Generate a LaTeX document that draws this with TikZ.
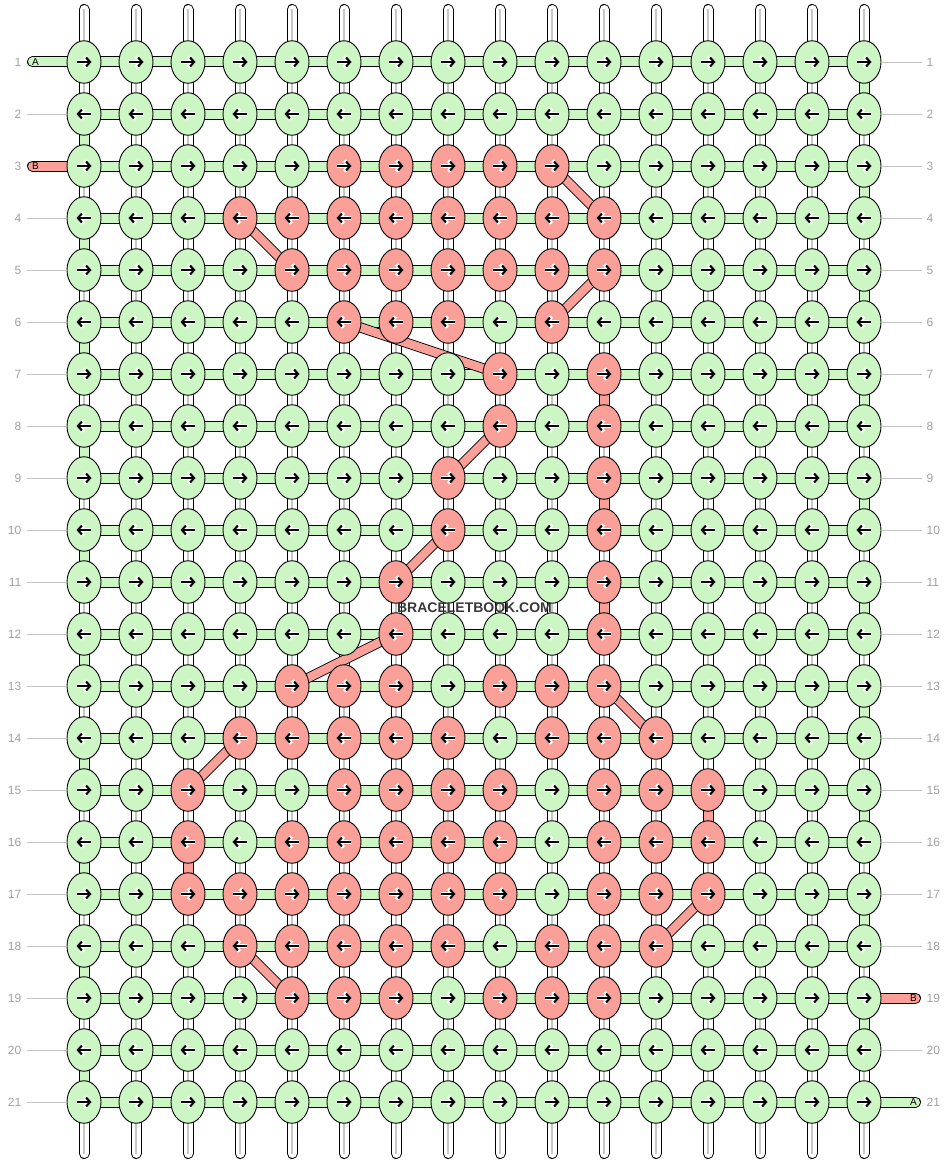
\documentclass[tikz,border=0pt]{standalone}
\usepackage{fontspec}
\setmainfont{Liberation Sans}
\usepackage{tikz}
\usetikzlibrary{shapes.geometric, arrows.meta}

\definecolor{knotgreen}{HTML}{CCF6C4}
\definecolor{knotred}{HTML}{FAA098}
\definecolor{labelgray}{HTML}{A0A0A0}
\definecolor{linegray}{HTML}{C4C4C4}

\begin{document}
\begin{tikzpicture}[ x=1pt, y=-1pt, knot/.style={ellipse, draw=black, line
      width=0.9pt, minimum width=34pt, minimum height=42.5pt, inner sep=0pt},
      warp/.style={draw=black, line width=1pt, double=white, double
      distance=9pt, line cap=round}, warpmid/.style={draw=black!22, line
      width=1.6pt}, weft/.style={draw=black, line width=1pt, double=#1,
      double distance=9pt}, stub/.style={weft=#1, line cap=round},
      carry/.style={draw=black, line width=0.9pt, double=knotred, double
      distance=8.4pt}, knotarrow/.style={line width=2.1pt, -{Straight
      Barb[length=4pt,width=9pt]}, preaction={draw=white, line width=3.8pt,
      -{Straight Barb[length=4.6pt,width=11pt]}}},
      rowlabel/.style={text=labelgray, font=\fontsize{12pt}{14pt}\selectfont,
      inner sep=0pt}, rowline/.style={draw=linegray, line width=0.8pt},
      stublabel/.style={font=\fontsize{10pt}{12pt}\selectfont, inner sep=0pt},
      watermark/.style={text=black!78, font=\bfseries\fontsize{14pt}{16pt}\selectfont,
      inner sep=0pt} ]

    \useasboundingbox (0,0) rectangle (948,1164);

    % Grid points
    \foreach \r in {1,...,21} \foreach \c in {1,...,16} \coordinate (p-\r-\c)
    at ({84+52*(\c-1)}, {62+52*(\r-1)});

    % Red knots
    \foreach \r/\cl in {3/{6,...,10}, 4/{4,...,11}, 5/{5,...,11},
      6/{6,7,8,10}, 7/{9,11}, 8/{9,11}, 9/{8,11}, 10/{8,11}, 11/{7,11},
      12/{7,11}, 13/{5,6,7,9,10,11}, 14/{4,5,6,7,8,10,11,12},
      15/{3,6,7,8,9,11,12,13}, 16/{3,5,6,7,8,9,11,12,13},
      17/{3,4,5,6,7,8,9,11,12,13}, 18/{4,5,6,7,8,10,11,12},
      19/{5,6,7,9,10,11}} \foreach \c in \cl {\expandafter\gdef\csname
      red-\r-\c\endcsname{}};

    % Vertical strands
    \foreach \c in {1,...,16} { \coordinate (top-\c) at ({84+52*(\c-1)},9.5);
      \coordinate (bot-\c) at ({84+52*(\c-1)},1153.5); \draw[warp] (top-\c) --
      (bot-\c); \draw[warpmid] (top-\c) -- (bot-\c); }

    % Rows of the green strand and its turns at the edges
    \foreach \r in {1,...,21} \draw[weft=knotgreen] (p-\r-1) -- (p-\r-16);
    \foreach \r/\s in {1/2,3/4,5/6,7/8,9/10,11/12,13/14,15/16,17/18,19/20}
    \draw[weft=knotgreen] (p-\r-16) -- (p-\s-16);
    \foreach \r/\s in {2/3,4/5,6/7,8/9,10/11,12/13,14/15,16/17,18/19,20/21}
    \draw[weft=knotgreen] (p-\r-1) -- (p-\s-1);

    % Ends of the strands
    \coordinate (a-in) at (32.5,62); \coordinate (b-in) at (32.5,166);
    \coordinate (b-out) at (915.5,998); \coordinate (a-out) at (915.5,1102);
    \draw[stub=knotgreen] (a-in) -- (p-1-1); \draw[stub=knotred] (b-in) --
    (p-3-1); \draw[stub=knotred] (p-19-16) -- (b-out); \draw[stub=knotgreen]
    (p-21-16) -- (a-out);

    % Red strand going down
    \foreach \c/\ra/\rb in {11/7/8, 11/9/10, 11/11/12, 13/15/16, 3/16/17}
    \draw[weft=knotred] (p-\ra-\c) -- (p-\rb-\c);

    % Red strand crossing over
    \foreach \ra/\ca/\rb/\cb in {3/10/4/11, 4/4/5/5, 5/11/6/10, 6/6/7/9,
      8/9/9/8, 10/8/11/7, 12/7/13/5, 13/11/14/12, 14/4/15/3, 17/13/18/12,
      18/4/19/5} \draw[carry] (p-\ra-\ca) -- (p-\rb-\cb);

    % Knots
    \foreach \r in {1,...,21} \foreach \c in {1,...,16} { \ifcsname
      red-\r-\c\endcsname \def\knotfill{knotred}\else\def\knotfill{knotgreen}\fi
      \node[knot, fill=\knotfill] (n-\r-\c) at (p-\r-\c) {}; \ifodd\r
      \draw[knotarrow] ([xshift=-7pt]n-\r-\c.center) --
      ([xshift=7.5pt]n-\r-\c.center); \else \draw[knotarrow]
      ([xshift=7pt]n-\r-\c.center) -- ([xshift=-7.5pt]n-\r-\c.center); \fi }

    % Strand labels
    \node[stublabel] (a-lab) at (35.5,62) {A}; \node[stublabel] (b-lab) at
    (35.5,166) {B}; \node[stublabel] (b-lab2) at (913.5,998) {B};
    \node[stublabel] (a-lab2) at (913.5,1102) {A};

    % Row numbers
    \foreach \r in {1,...,21} { \node[rowlabel, anchor=east] (ll-\r) at
      (21.5,{62+52*(\r-1)}) {\r}; \node[rowlabel, anchor=west] (rl-\r) at
      (926.5,{62+52*(\r-1)}) {\r}; }
    \foreach \r in {2,4,5,...,21} { \coordinate (lls-\r) at
      (26.5,{62+52*(\r-1)}); \draw[rowline] (lls-\r) -- (n-\r-1.west); }
    \foreach \r in {1,...,18,20} { \coordinate (rls-\r) at
      (921.5,{62+52*(\r-1)}); \draw[rowline] (n-\r-16.east) -- (rls-\r); }

    % Site name
    \node[watermark] (wm) at (474.5,607.5) {BRACELETBOOK.COM};

    \end{tikzpicture}
\end{document}
